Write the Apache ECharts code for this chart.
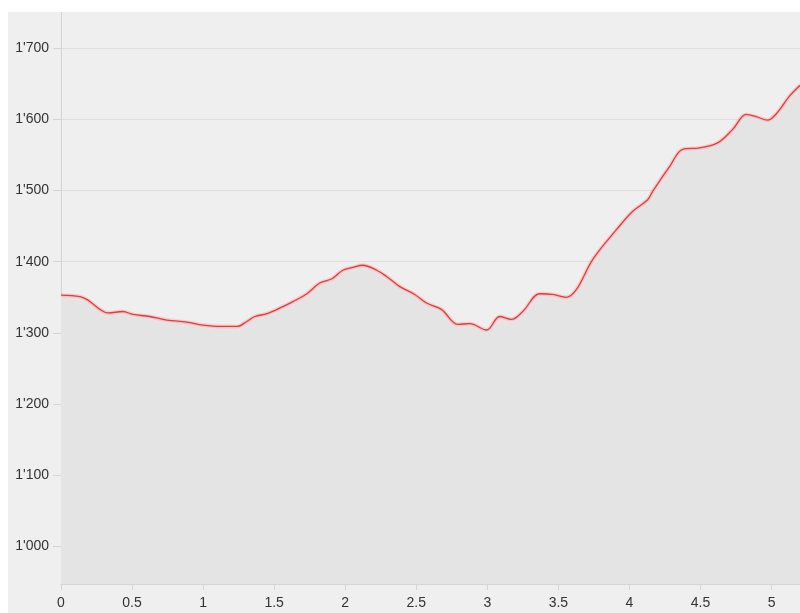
<!DOCTYPE html>
<html>
<head>
<meta charset="utf-8">
<script src="https://cdn.jsdelivr.net/npm/echarts@6/dist/echarts.min.js"></script>
<style>
html,body{margin:0;padding:0;background:#ffffff;width:800px;height:613px;overflow:hidden;}
#chart{position:absolute;left:8px;top:12px;width:792px;height:601px;}
</style>
</head>
<body>
<div id="chart"></div>
<script>
// Distance (km)
const distanceKm = [0, 0.134, 0.19, 0.274, 0.33, 0.436, 0.506, 0.626, 0.745, 0.886, 0.999, 1.118, 1.238, 1.308, 1.364, 1.449, 1.561, 1.632, 1.73, 1.821, 1.906, 1.983, 2.053, 2.124, 2.222, 2.293, 2.384, 2.489, 2.572, 2.677, 2.792, 2.876, 2.994, 3.087, 3.169, 3.249, 3.368, 3.46, 3.556, 3.627, 3.741, 3.908, 4.023, 4.128, 4.163, 4.283, 4.374, 4.494, 4.62, 4.726, 4.822, 4.892, 4.972, 5.033, 5.127, 5.2];
// Elevation (m)
const elevationM = [1353, 1351, 1346, 1333, 1328, 1330, 1326, 1323, 1318, 1315, 1311, 1309, 1309, 1316, 1323, 1327, 1337, 1344, 1355, 1370, 1376, 1388, 1392, 1395, 1388, 1379, 1365, 1354, 1342, 1333, 1312, 1313, 1304, 1323, 1319, 1330, 1355, 1354, 1350, 1361, 1403, 1445, 1471, 1487, 1499, 1534, 1558, 1560, 1567, 1586, 1607, 1604, 1599, 1608, 1633, 1648];
const yTicks = [1000, 1100, 1200, 1300, 1400, 1500, 1600, 1700];
const xTicks = [0, 0.5, 1, 1.5, 2, 2.5, 3, 3.5, 4, 4.5, 5];

const points = distanceKm.map((d, i) => [d, elevationM[i]]);
const fmtY = v => {
  const s = String(Math.round(v));
  return s.length > 3 ? s.slice(0, s.length - 3) + "'" + s.slice(s.length - 3) : s;
};
const font = 'Liberation Sans, Arial, sans-serif';

const chart = echarts.init(document.getElementById('chart'));
chart.setOption({
  backgroundColor: '#efefef',
  animation: false,
  grid: {left: 53, top: 0, right: 0, bottom: 29, containLabel: false},
  xAxis: {
    type: 'value',
    min: 0,
    max: 5.2,
    axisLine: {show: true, lineStyle: {color: '#d4d4d4', width: 1}},
    axisTick: {show: true, length: 6, lineStyle: {color: '#d4d4d4'}, customValues: xTicks.concat([5.2])},
    splitLine: {show: false},
    axisLabel: {
      color: '#333333', fontFamily: font, fontSize: 14, margin: 12,
      customValues: xTicks,
      formatter: v => String(+(+v).toFixed(1))
    }
  },
  yAxis: {
    type: 'value',
    min: 947,
    max: 1751,
    axisLine: {show: true, lineStyle: {color: '#d4d4d4', width: 1}},
    axisTick: {show: true, length: 8, lineStyle: {color: '#d4d4d4'}, customValues: yTicks},
    splitLine: {show: true, lineStyle: {color: '#dedede', width: 1}},
    axisLabel: {
      show: true, color: '#333333', fontFamily: font, fontSize: 14, margin: 12,
      customValues: yTicks,
      formatter: v => fmtY(v)
    }
  },
  series: [
    {
      type: 'line',
      data: points,
      smooth: 0.35,
      symbol: 'none',
      lineStyle: {color: 'rgba(255,120,120,0.25)', width: 4},
      areaStyle: {color: '#e4e4e4', opacity: 1},
      z: 2
    },
    {
      type: 'line',
      data: points,
      smooth: 0.35,
      symbol: 'none',
      lineStyle: {color: '#e5393a', width: 1.3},
      z: 3
    }
  ]
});
</script>
</body>
</html>
